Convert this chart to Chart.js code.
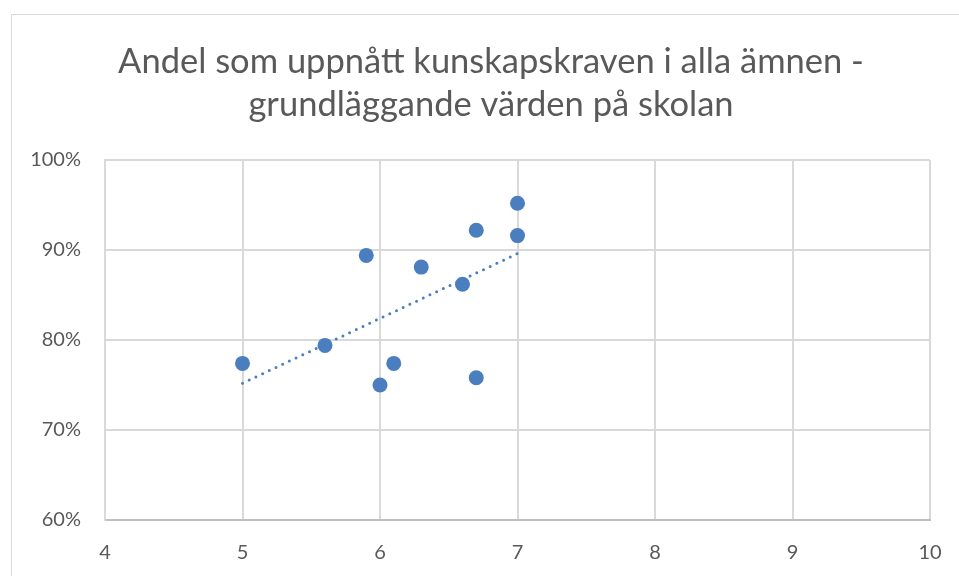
<!DOCTYPE html>
<html>
<head>
<meta charset="utf-8">
<script src="https://cdn.jsdelivr.net/npm/chart.js@4/dist/chart.umd.min.js"></script>
<style>
  html, body { margin: 0; padding: 0; background: #fff; }
  #wrap { position: relative; width: 959px; height: 576px; overflow: hidden; }
  #frame { position: absolute; left: 11px; top: 14px; width: 1000px; height: 700px; border: 1px solid #d9d9d9; box-sizing: border-box; }
  canvas { position: absolute; left: 0; top: 0; }
</style>
</head>
<body>
<div id="wrap">
  <div id="frame"></div>
  <canvas id="c" width="959" height="576"></canvas>
</div>
<script>
// Data
const titleLines = ["Andel som uppnått kunskapskraven i alla ämnen -", "grundläggande värden på skolan"];
const xValues = [5, 5.6, 5.9, 6, 6.1, 6.3, 6.6, 6.7, 6.7, 7, 7];
const yValues = [0.774, 0.794, 0.894, 0.750, 0.774, 0.881, 0.862, 0.922, 0.758, 0.952, 0.916];
const trendX = [5, 7];
const trendY = [0.752, 0.896];
const xTicks = [4, 5, 6, 7, 8, 9, 10];
const yTicks = [0.6, 0.7, 0.8, 0.9, 1.0];

const points = xValues.map((x, i) => ({ x: x, y: yValues[i] }));
const trend = trendX.map((x, i) => ({ x: x, y: trendY[i] }));

const fontFam = "Lato, 'Open Sans', sans-serif";
const blue = '#4a7ebf';

// Title drawn centred on the chart frame (frame centre differs from canvas centre)
const frameTitle = {
  id: 'frameTitle',
  afterDraw(chart) {
    const ctx = chart.ctx;
    ctx.save();
    ctx.fillStyle = '#595959';
    ctx.font = "34.5px " + fontFam;
    ctx.textAlign = 'center';
    ctx.textBaseline = 'middle';
    titleLines.forEach((t, i) => ctx.fillText(t, 491, 62 + i * 43));
    ctx.restore();
  }
};

new Chart(document.getElementById('c'), {
  type: 'scatter',
  data: {
    datasets: [
      {
        label: 'Trend',
        type: 'line',
        data: trend,
        borderColor: blue,
        borderWidth: 3,
        borderDash: [0, 7.4],
        borderCapStyle: 'round',
        pointRadius: 0,
        fill: false,
        order: 0
      },
      {
        label: 'Skolor',
        data: points,
        backgroundColor: blue,
        borderColor: blue,
        pointRadius: 7.5,
        pointHoverRadius: 7.5,
        borderWidth: 0,
        order: 1
      }
    ]
  },
  plugins: [frameTitle],
  options: {
    responsive: false,
    animation: false,
    devicePixelRatio: 1,
    layout: { padding: { left: 0, right: 29, top: 160, bottom: 0 } },
    plugins: {
      legend: { display: false },
      tooltip: { enabled: false },
      title: { display: false }
    },
    scales: {
      x: {
        type: 'linear',
        min: 4, max: 10,
        afterBuildTicks: (s) => { s.ticks = xTicks.map(v => ({ value: v })); },
        afterFit: (s) => { s.height = 56; s.paddingRight = 0; s.paddingLeft = 0; },
        grid: { color: '#d9d9d9', lineWidth: 2, drawTicks: false },
        border: { color: '#bfbfbf', width: 2 },
        ticks: { color: '#595959', font: { family: fontFam, size: 20 }, padding: 21, maxRotation: 0 }
      },
      y: {
        min: 0.6, max: 1.0,
        afterBuildTicks: (s) => { s.ticks = yTicks.map(v => ({ value: v })); },
        afterFit: (s) => { s.width = 105; s.paddingTop = 0; s.paddingBottom = 0; },
        grid: { color: '#d9d9d9', lineWidth: 2, drawTicks: false },
        border: { color: '#d9d9d9', width: 2 },
        ticks: {
          color: '#595959', font: { family: fontFam, size: 20 }, padding: 24,
          callback: (v) => Math.round(v * 100) + '%'
        }
      }
    }
  }
});
</script>
</body>
</html>
